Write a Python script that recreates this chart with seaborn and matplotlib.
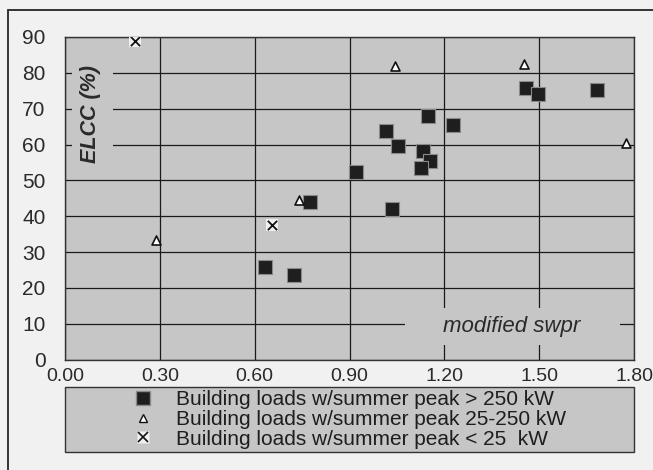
import matplotlib
matplotlib.use("Agg")
from matplotlib import pyplot as plt
from matplotlib.lines import Line2D
from matplotlib.patches import Rectangle
import numpy as np
import pandas as pd
import seaborn as sns

# values
big_x = [1.457, 1.496, 1.684, 1.149, 1.226, 1.015, 1.054, 1.131, 1.154, 1.127, 0.921, 1.035, 0.776, 0.633, 0.725]
big_y = [75.7, 74.0, 75.2, 68.0, 65.4, 63.8, 59.7, 58.2, 55.4, 53.5, 52.4, 42.1, 44.0, 25.7, 23.5]
mid_x = [1.044, 1.452, 1.776, 0.741, 0.289]
mid_y = [82.0, 82.4, 60.3, 44.5, 33.3]
small_x = [0.22, 0.654]
small_y = [88.9, 37.4]

labels = [
    "Building loads w/summer peak > 250 kW",
    "Building loads w/summer peak 25-250 kW",
    "Building loads w/summer peak < 25  kW",
]
x_ticks = [0.0, 0.3, 0.6, 0.9, 1.2, 1.5, 1.8]
y_ticks = list(range(0, 100, 10))

df = pd.concat([
    pd.DataFrame({"swpr": big_x, "elcc": big_y, "group": labels[0]}),
    pd.DataFrame({"swpr": mid_x, "elcc": mid_y, "group": labels[1]}),
    pd.DataFrame({"swpr": small_x, "elcc": small_y, "group": labels[2]}),
])

sns.set_theme(style="white")
plt.rcParams["font.family"] = ["Liberation Sans", "DejaVu Sans"]

bg = "#c6c6c6"
fig = plt.figure(figsize=(6.53, 4.70), dpi=100, facecolor="#f1f1f1")
ax = fig.add_axes([65 / 653, 1 - 359.5 / 470, (634 - 65) / 653, (359.5 - 37) / 470])
ax.set_facecolor(bg)

# outer frame
fig.add_artist(Line2D([8 / 653, 1.0], [1 - 10 / 470] * 2, transform=fig.transFigure, color="#333333", lw=1.4))
fig.add_artist(Line2D([8 / 653] * 2, [0.0, 1 - 10 / 470], transform=fig.transFigure, color="#333333", lw=1.4))

# legend box
fig.add_artist(Rectangle((65 / 653, 1 - 452 / 470), (634 - 65) / 653, 65 / 470,
                         transform=fig.transFigure, facecolor=bg, edgecolor="#333333", lw=1.0))

g1 = df[df.group == labels[0]]
g2 = df[df.group == labels[1]]
g3 = df[df.group == labels[2]]

sns.scatterplot(data=g1, x="swpr", y="elcc", marker="s", s=95, color="#1e1e1e",
                edgecolor="#8a8a8a", linewidth=0.8, ax=ax, zorder=4, legend=False)
sns.scatterplot(data=g2, x="swpr", y="elcc", marker="^", s=42, color="white",
                edgecolor="#111111", linewidth=1.2, ax=ax, zorder=4, legend=False)
sns.scatterplot(data=g3, x="swpr", y="elcc", marker="s", s=85, color="#f0f0f0",
                linewidth=0, ax=ax, zorder=4, legend=False)
sns.scatterplot(data=g3, x="swpr", y="elcc", marker="x", s=45, color="#111111",
                linewidth=1.3, ax=ax, zorder=5, legend=False)

ax.set_xlim(0, 1.8)
ax.set_ylim(0, 90)
ax.set_xticks(x_ticks)
ax.set_xticklabels([f"{v:.2f}" for v in x_ticks])
ax.set_yticks(y_ticks)
ax.grid(True, color="#1a1a1a", lw=0.9)
ax.set_axisbelow(True)
for sp in ax.spines.values():
    sp.set_color("#333333")
    sp.set_linewidth(1.0)
ax.tick_params(axis="y", length=6, width=0.9, color="#333333", pad=8, labelsize=15, labelcolor="#2a2a2a")
ax.tick_params(axis="x", length=0, pad=6, labelsize=14, labelcolor="#2a2a2a")
ax.set_xlabel("")
ax.set_ylabel("")

# boxes that hide the grid behind the in-plot labels
ax.add_patch(Rectangle((0.0123, 0.594), 0.072, 0.335, transform=ax.transAxes,
                       facecolor=bg, edgecolor="none", zorder=2.5))
ax.add_patch(Rectangle((0.5975, 0.045), 0.378, 0.115, transform=ax.transAxes,
                       facecolor=bg, edgecolor="none", zorder=2.5))
ax.text(0.044, 0.76, "ELCC (%)", transform=ax.transAxes, rotation=90, ha="center", va="center",
        fontsize=15.5, style="italic", fontweight="bold", color="#2a2a2a", zorder=3)
ax.text(0.785, 0.101, "modified swpr", transform=ax.transAxes, ha="center", va="center",
        fontsize=16, style="italic", color="#2a2a2a", zorder=3)

h1 = Line2D([], [], ls="", marker="s", ms=9.5, mfc="#1e1e1e", mec="#8a8a8a")
h2 = Line2D([], [], ls="", marker="^", ms=6, mfc="white", mec="#111111", mew=1.0)
h3b = Line2D([], [], ls="", marker="s", ms=9, mfc="#f0f0f0", mec="none")
h3 = Line2D([], [], ls="", marker="x", ms=6.5, color="#111111", mew=1.2)
fig.legend([h1, h2, (h3b, h3)], labels, loc="center",
           bbox_to_anchor=(65 / 653, 1 - 452 / 470, (634 - 65) / 653, 65 / 470),
           frameon=False, fontsize=15, labelspacing=0.03, handletextpad=1.1,
           handlelength=1.0, borderpad=0.1, labelcolor="#1e1e1e")

fig.savefig("out.png", dpi=100, facecolor=fig.get_facecolor())
